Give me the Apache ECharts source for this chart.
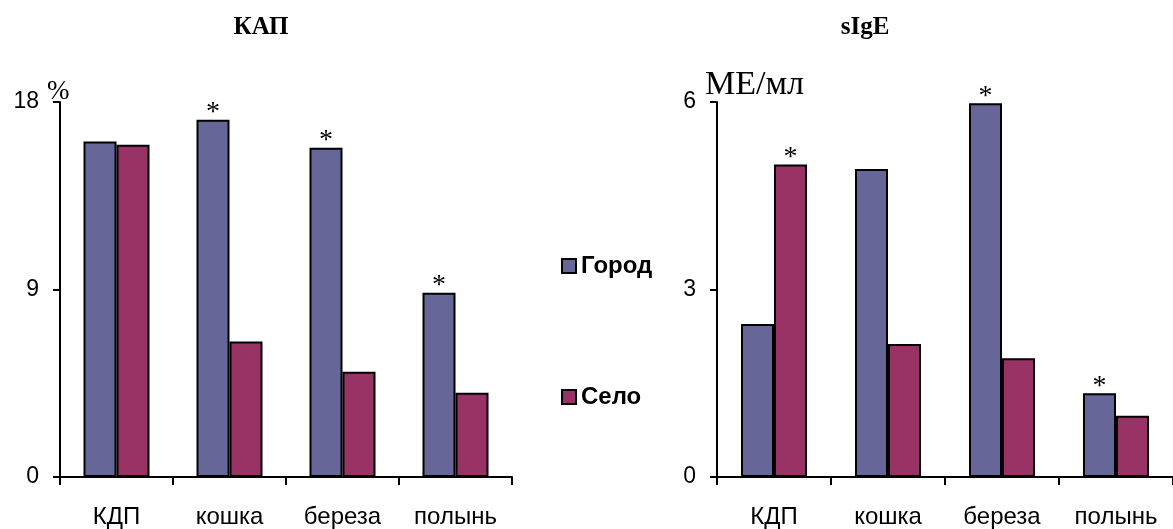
<!DOCTYPE html>
<html>
<head>
<meta charset="utf-8">
<script src="https://cdn.jsdelivr.net/npm/echarts@6/dist/echarts.min.js"></script>
<style>
html,body{margin:0;padding:0;background:#fff;}
#chart{width:1173px;height:529px;}
</style>
</head>
<body>
<div id="chart"></div>
<script>
const categories = ['КДП', 'кошка', 'береза', 'полынь'];
const seriesNames = ['Город', 'Село'];
const kapCity = [16.1, 17.15, 15.8, 8.85];
const kapVillage = [15.95, 6.5, 5.05, 4.05];
const sigeCity = [2.45, 4.93, 5.98, 1.34];
const sigeVillage = [5.0, 2.13, 1.9, 0.98];
const kapCityStar = [false, true, true, true];
const kapVillageStar = [false, false, false, false];
const sigeCityStar = [false, false, true, true];
const sigeVillageStar = [true, false, false, false];
const kapTicks = {min: 0, max: 18, interval: 9};
const sigeTicks = {min: 0, max: 6, interval: 3};

const cityColor = '#666699';
const villageColor = '#993366';
const sans = '"Liberation Sans", Arial, sans-serif';
const serif = '"Liberation Serif", "Times New Roman", serif';

function items(values, stars) {
  return values.map((v, i) => ({value: v, label: {show: stars[i]}}));
}
function barSeries(name, values, stars, color, idx) {
  return {
    type: 'bar', name: name, xAxisIndex: idx, yAxisIndex: idx,
    data: items(values, stars),
    barWidth: 33, barGap: '0%',
    itemStyle: {color: color, borderColor: '#000', borderWidth: 2},
    label: {show: false, position: 'top', formatter: '*', distance: -7,
      fontFamily: serif, fontSize: 28, color: '#000'},
    emphasis: {disabled: true}
  };
}
const axisLineStyle = {show: true, lineStyle: {color: '#000', width: 2}};
function xAx(idx) {
  return {type: 'category', gridIndex: idx, data: categories,
    axisLine: axisLineStyle,
    axisTick: {show: true, length: 8, lineStyle: {color: '#000', width: 2}},
    axisLabel: {fontFamily: sans, fontSize: 24, color: '#000', margin: 28}};
}
function yAx(idx, t) {
  return {type: 'value', gridIndex: idx, min: t.min, max: t.max, interval: t.interval,
    axisLine: axisLineStyle,
    axisTick: {show: true, length: 7, lineStyle: {color: '#000', width: 2}},
    splitLine: {show: false},
    axisLabel: {fontFamily: sans, fontSize: 23, color: '#000', margin: 21}};
}

const chart = echarts.init(document.getElementById('chart'), null, {renderer: 'canvas'});
chart.setOption({
  animation: false,
  backgroundColor: '#fff',
  title: [
    {text: 'КАП', left: 256, top: 10, textAlign: 'center',
      textStyle: {fontFamily: serif, fontWeight: 'bold', fontSize: 25, color: '#000'}},
    {text: 'sIgE', left: 860, top: 10, textAlign: 'center',
      textStyle: {fontFamily: serif, fontWeight: 'bold', fontSize: 25, color: '#000'}}
  ],
  legend: {
    data: seriesNames, orient: 'vertical', left: 556, top: 249,
    itemWidth: 14, itemHeight: 14, itemGap: 107, icon: 'rect',
    selectedMode: false,
    textStyle: {fontFamily: sans, fontWeight: 'bold', fontSize: 24, color: '#000', padding: [0, 0, 0, 0]}
  },
  grid: [
    {left: 60, top: 102, width: 452, height: 377},
    {left: 717, top: 102, width: 464, height: 377}
  ],
  xAxis: [xAx(0), xAx(1)],
  yAxis: [yAx(0, kapTicks), yAx(1, sigeTicks)],
  series: [
    barSeries(seriesNames[0], kapCity, kapCityStar, cityColor, 0),
    barSeries(seriesNames[1], kapVillage, kapVillageStar, villageColor, 0),
    barSeries(seriesNames[0], sigeCity, sigeCityStar, cityColor, 1),
    barSeries(seriesNames[1], sigeVillage, sigeVillageStar, villageColor, 1)
  ],
  graphic: [
    {type: 'text', left: 47, top: 78, style: {text: '%', fontFamily: serif, fontSize: 27, fill: '#000'}},
    {type: 'text', left: 705, top: 68, style: {text: 'МЕ/мл', fontFamily: serif, fontSize: 34, fill: '#000'}}
  ]
});
</script>
</body>
</html>
